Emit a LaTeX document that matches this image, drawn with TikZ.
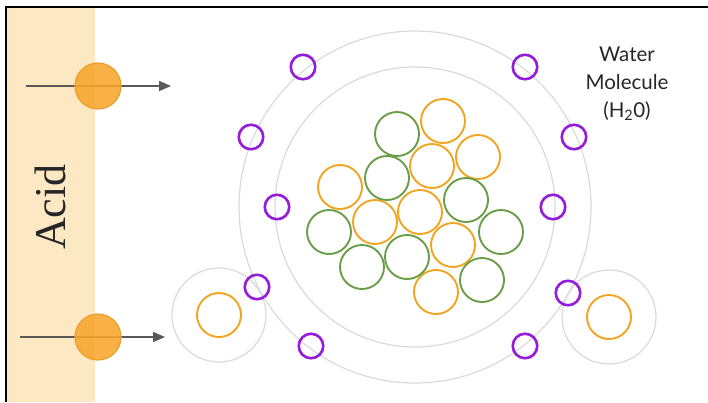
\documentclass[tikz,border=0pt]{standalone}
\usepackage{fontspec}
\setmainfont{Lato}
\newfontfamily\acidfont{Liberation Serif}
\usetikzlibrary{arrows.meta}
\definecolor{bandcolor}{RGB}{253,232,196}
\definecolor{ballcolor}{RGB}{248,166,44}
\definecolor{ringorange}{RGB}{240,164,32}
\definecolor{ringgreen}{RGB}{104,158,72}
\definecolor{ringpurple}{RGB}{148,28,218}
\definecolor{shellgray}{RGB}{218,218,218}
\tikzset{
  shell/.style={draw=shellgray, line width=1.2pt},
  proton/.style={circle, draw=ballcolor!95!black, line width=1.2pt, fill=ballcolor, fill opacity=0.88, minimum size=46pt, inner sep=0pt},
  orangering/.style={circle, draw=ringorange, line width=1.9pt, minimum size=44pt, inner sep=0pt},
  greenring/.style={circle, draw=ringgreen, line width=1.9pt, minimum size=44pt, inner sep=0pt},
  waterring/.style={circle, draw=ringpurple, line width=2.6pt, minimum size=24.5pt, inner sep=0pt},
  flow/.style={draw=black!65, line width=1.6pt, -{Triangle[length=12pt,width=10pt]}}
}

\begin{document}
\begin{tikzpicture}[x=1pt,y=-1pt]
\useasboundingbox (0,0) rectangle (708,402);
% acid side and frame
\fill[bandcolor] (6,7) rectangle (95,402);
\draw[line width=2.6pt] (6,402) -- (6,7) -- (708,7);
\node[font=\acidfont\fontsize{44}{44}\selectfont, text=black!85, rotate=90] (acid) at (50,207) {Acid};

% shells round the nucleus and the two loose protons
\coordinate (core) at (415,207);
\coordinate (lcore) at (219,315);
\coordinate (rcore) at (609,317);
\draw[shell] (core) circle (176pt);
\draw[shell] (core) circle (140pt);
\draw[shell] (lcore) circle (47pt);
\draw[shell] (rcore) circle (47pt);
\node[orangering] (lp) at (lcore) {};
\node[orangering] (rp) at (rcore) {};

% nucleus
\foreach \x/\y [count=\i] in {443/121, 478/157, 432/166, 340/187, 420/212, 375/222, 453/245, 436/292}
  \node[orangering] (o\i) at (\x,\y) {};
\foreach \x/\y [count=\i] in {397/134, 387/178, 466/200, 329/232, 501/232, 407/257, 362/267, 482/280}
  \node[greenring] (g\i) at (\x,\y) {};

% water molecules
\foreach \x/\y [count=\i] in {303/67, 525/67, 251/137, 574/137, 277/207, 553/207, 257/287, 568/293, 311/346, 525/346}
  \node[waterring] (w\i) at (\x,\y) {};
\node[align=center, font=\fontsize{20.5}{28}\selectfont, text=black!85] (water) at (627,84) {Water\\Molecule\\(H\textsubscript{2}0)};

% protons leaving the acid
\coordinate (in1) at (26,86);
\coordinate (out1) at (171,86);
\coordinate (in2) at (20,337);
\coordinate (out2) at (165,337);
\draw[flow] (in1) -- (out1);
\draw[flow] (in2) -- (out2);
\node[proton] (p1) at (98,86) {};
\node[proton] (p2) at (98,337) {};
\end{tikzpicture}
\end{document}
